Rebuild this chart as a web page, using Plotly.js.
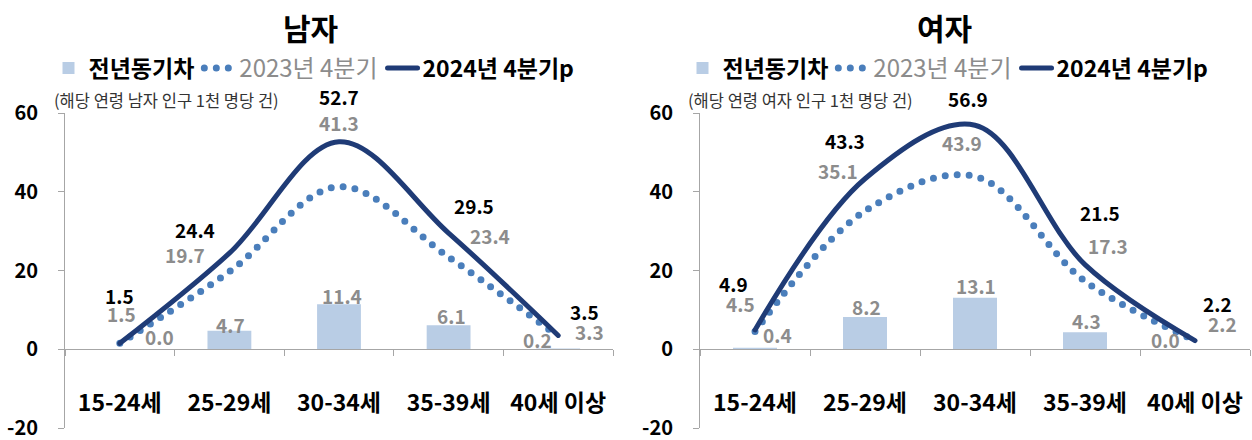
<!DOCTYPE html>
<html><head><meta charset="utf-8">
<script src="https://cdn.plot.ly/plotly-3.0.1.min.js"></script>
<style>
body{margin:0;background:#fff;}
#chart{width:1252px;height:440px;}
path.js-line{stroke-linecap:round;}
</style>
</head><body><div id="chart"></div>
<script>
// ---- data ----
const categories = ['15-24세', '25-29세', '30-34세', '35-39세', '40세 이상'];
const maleDiff   = [0.0, 4.7, 11.4, 6.1, 0.2];
const male2023   = [1.5, 19.7, 41.3, 23.4, 3.3];
const male2024   = [1.5, 24.4, 52.7, 29.5, 3.5];
const femaleDiff = [0.4, 8.2, 13.1, 4.3, 0.0];
const female2023 = [4.5, 35.1, 43.9, 17.3, 2.2];
const female2024 = [4.9, 43.3, 56.9, 21.5, 2.2];
const yTicks = [-20, 0, 20, 40, 60];
const yTickText = ['-20', '0', '20', '40', '60'];
const seriesNames = ['전년동기차', '2023년 4분기', '2024년 4분기p'];
const panelTitles = ['남자', '여자'];
const panelNotes = ['(해당 연령 남자 인구 1천 명당 건)', '(해당 연령 여자 인구 1천 명당 건)'];

// ---- style ----
const FONT = '"Noto Sans CJK KR", "Noto Sans", sans-serif';
const C_BAR = '#b9cde5', C_DOT = '#4a7ebb', C_LINE = '#1f3b76', C_GRAY = '#8c8c8c', C_AXIS = '#a6a6a6';
const W = 1252, TOP = 113, BOT = 428, H = BOT - TOP;
const py = Y => (BOT - Y) / H;   // pixel row -> paper y

// label offsets [dx, dy] in px (style only)
const labelOffsets = [
  { diff: [[40,13],[1,6],[3,9],[3,10],[-21,9]],
    prev: [[2,30],[-44,17],[0,64],[41,22],[31,5]],
    cur:  [[0,48],[-34,24],[0,45],[25,28],[26,24]] },
  { diff: [[22,13],[1,10],[1,12],[1,12],[-30,10]],
    prev: [[-15,28],[-27,41],[-13,34],[23,36],[27,17]],
    cur:  [[-22,46],[-20,38],[-7,27],[15,52],[22,37]] }
];

const panels = [
  { diff: maleDiff, prev: male2023, cur: male2024, xa: 'x', ya: 'y', leg: 'legend' },
  { diff: femaleDiff, prev: female2023, cur: female2024, xa: 'x2', ya: 'y2', leg: 'legend2' }
];

const traces = [];
const annotations = [];
panels.forEach((p, k) => {
  traces.push({
    type: 'bar', x: categories, y: p.diff, xaxis: p.xa, yaxis: p.ya, legend: p.leg,
    name: seriesNames[0], marker: { color: C_BAR }, width: 0.4, hoverinfo: 'skip'
  });
  traces.push({
    type: 'scatter', mode: 'lines', x: categories, y: p.prev, xaxis: p.xa, yaxis: p.ya, legend: p.leg,
    name: '<span style="color:' + C_GRAY + ';font-weight:normal;font-size:24px">' + seriesNames[1] + '</span>',
    line: { color: C_DOT, width: 7, dash: '0px,12px', shape: 'spline', smoothing: 1 }, hoverinfo: 'skip'
  });
  traces.push({
    type: 'scatter', mode: 'lines', x: categories, y: p.cur, xaxis: p.xa, yaxis: p.ya, legend: p.leg,
    name: seriesNames[2],
    line: { color: C_LINE, width: 5, shape: 'spline', smoothing: 1 }, hoverinfo: 'skip'
  });
  const off = labelOffsets[k];
  const addLabels = (vals, offs, color) => vals.forEach((v, i) => annotations.push({
    xref: p.xa, yref: p.ya, x: i, y: v, text: v.toFixed(1), showarrow: false,
    xanchor: 'center', yanchor: 'middle', xshift: offs[i][0], yshift: offs[i][1],
    font: { family: FONT, size: 19, weight: 'bold', color: color }
  }));
  addLabels(p.diff, off.diff, C_GRAY);
  addLabels(p.prev, off.prev, C_GRAY);
  addLabels(p.cur, off.cur, '#000');
});

// titles and notes
const titleX = [310, 944], noteX = [52, 686];
panelTitles.forEach((t, k) => {
  annotations.push({ xref: 'paper', yref: 'paper', x: titleX[k] / W, y: py(27), text: t, showarrow: false,
    xanchor: 'center', yanchor: 'middle', font: { family: FONT, size: 30, weight: 'bold', color: '#000' } });
  annotations.push({ xref: 'paper', yref: 'paper', x: noteX[k] / W, y: py(100), text: panelNotes[k], showarrow: false,
    xanchor: 'left', yanchor: 'middle', font: { family: FONT, size: 16.5, color: '#333' } });
});

function axisX(domain) {
  return { type: 'category', domain: domain, range: [-0.5, 4.5], anchor: 'free', position: 0.25,
    showline: true, linecolor: C_AXIS, linewidth: 1, ticks: 'outside', tickson: 'boundaries',
    ticklen: 6, tickcolor: C_AXIS, showgrid: false, zeroline: false, ticklabelstandoff: 33,
    tickfont: { family: FONT, size: 23, weight: 'bold', color: '#000' }, fixedrange: true };
}
function axisY(anchor) {
  return { domain: [0, 1], range: [-20, 60], tickmode: 'array', tickvals: yTicks, ticktext: yTickText,
    anchor: anchor, showline: true, linecolor: C_AXIS, linewidth: 1, ticks: 'outside', ticklen: 6,
    tickcolor: C_AXIS, showgrid: false, zeroline: false, ticklabelstandoff: 16, ticklabeloverflow: 'allow',
    tickfont: { family: FONT, size: 20, weight: 'bold', color: '#000' }, fixedrange: true };
}
function legendAt(cx) {
  return { orientation: 'h', x: cx / W, xanchor: 'center', y: py(68), yanchor: 'middle',
    font: { family: FONT, size: 23, weight: 'bold', color: '#000' }, bgcolor: 'rgba(0,0,0,0)',
    itemwidth: 30, tracegroupgap: 0 };
}

const layout = {
  width: W, height: 440, margin: { l: 0, r: 0, t: TOP, b: 440 - BOT, autoexpand: false },
  paper_bgcolor: '#fff', plot_bgcolor: '#fff', font: { family: FONT, color: '#000' },
  barmode: 'group', showlegend: true,
  xaxis: axisX([65 / W, 613 / W]), xaxis2: axisX([700 / W, 1250 / W]),
  yaxis: axisY('x'), yaxis2: axisY('x2'),
  legend: legendAt(314), legend2: legendAt(948),
  annotations: annotations
};

Plotly.newPlot('chart', traces, layout, { displayModeBar: false, staticPlot: true });
</script>
</body></html>
